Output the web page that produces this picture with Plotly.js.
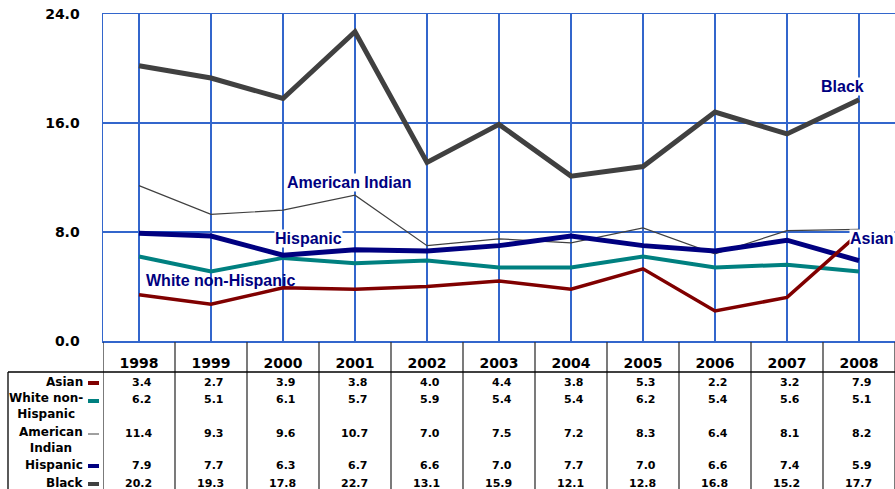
<!DOCTYPE html>
<html>
<head>
<meta charset="utf-8">
<script src="https://cdn.plot.ly/plotly-3.0.1.min.js"></script>
<style>html,body{margin:0;padding:0;background:#fff;}#chart{width:895px;height:489px;}</style>
</head>
<body>
<div id="chart"></div>
<script>
const years = ["1998","1999","2000","2001","2002","2003","2004","2005","2006","2007","2008"];
const asian = [3.4, 2.7, 3.9, 3.8, 4.0, 4.4, 3.8, 5.3, 2.2, 3.2, 7.9];
const whiteNonHispanic = [6.2, 5.1, 6.1, 5.7, 5.9, 5.4, 5.4, 6.2, 5.4, 5.6, 5.1];
const americanIndian = [11.4, 9.3, 9.6, 10.7, 7.0, 7.5, 7.2, 8.3, 6.4, 8.1, 8.2];
const hispanic = [7.9, 7.7, 6.3, 6.7, 6.6, 7.0, 7.7, 7.0, 6.6, 7.4, 5.9];
const black = [20.2, 19.3, 17.8, 22.7, 13.1, 15.9, 12.1, 12.8, 16.8, 15.2, 17.7];
const rowLabels = ["Asian", "White non-<br>Hispanic", "American<br>Indian", "Hispanic", "Black"];
const yTicks = [0, 8, 16, 24];
const yTickText = ["0.0", "8.0", "16.0", "24.0"];

const W = 895, H = 489, L = 103, T = 14, B = 148;
const plotW = W - L, plotH = H - T - B;
const bottomPx = H - B;
const px2x = p => (p - L) / plotW;
const px2y = p => (bottomPx - p) / plotH;

const series = [
  {name: "American Indian", y: americanIndian, color: "#404040", width: 1.2},
  {name: "White non-Hispanic", y: whiteNonHispanic, color: "#008080", width: 4},
  {name: "Hispanic", y: hispanic, color: "#000080", width: 5},
  {name: "Black", y: black, color: "#404040", width: 5},
  {name: "Asian", y: asian, color: "#800000", width: 3.5}
];
const traces = series.map(s => ({
  type: "scatter", mode: "lines", x: years, y: s.y, name: s.name,
  line: {color: s.color, width: s.width}, hoverinfo: "skip"
}));

const tableRows = [
  {data: asian, color: "#800000", width: 4, ypx: 382},
  {data: whiteNonHispanic, color: "#008080", width: 4, ypx: 400, labelPx: 406},
  {data: americanIndian, color: "#404040", width: 1, ypx: 433, labelPx: 440},
  {data: hispanic, color: "#000080", width: 4, ypx: 465},
  {data: black, color: "#404040", width: 4, ypx: 483}
];

const annotations = [];
const shapes = [];
const labFont = {family: "Liberation Sans, Arial, sans-serif", size: 16, color: "#000080", weight: "bold"};
[
  {text: "American Indian", x: 2.92, y: 11.6, xanchor: "center", xref: "x", bg: "#ffffff"},
  {text: "Hispanic", x: 2.36, y: 7.5, xanchor: "center", xref: "x", bg: "#ffffff"},
  {text: "White non-Hispanic", x: 1.13, y: 4.45, xanchor: "center", xref: "x", bg: "rgba(0,0,0,0)"},
  {text: "Black", x: 9.77, y: 18.7, xanchor: "center", xref: "x", bg: "#ffffff"},
  {text: "Asian", x: 1, y: 7.5, xanchor: "right", xref: "paper", bg: "#ffffff"}
].forEach(a => annotations.push({
  text: a.text, x: a.x, y: a.y, xref: a.xref, yref: "y", xanchor: a.xanchor, yanchor: "middle",
  showarrow: false, font: labFont, bgcolor: a.bg, borderpad: 0
}));

const cellFont = {family: "DejaVu Sans, Verdana, sans-serif", size: 11, color: "#000000", weight: "bold"};
const rowFont = {family: "DejaVu Sans, Verdana, sans-serif", size: 12, color: "#000000", weight: "bold"};
tableRows.forEach((r, ri) => {
  const yp = r.labelPx || r.ypx;
  annotations.push({
    text: rowLabels[ri], xref: "paper", yref: "paper", x: px2x(85), y: px2y(yp),
    xanchor: "right", yanchor: "middle", align: "center", showarrow: false, font: rowFont
  });
  shapes.push({
    type: "line", xref: "paper", yref: "paper",
    x0: px2x(88), x1: px2x(99), y0: px2y(r.ypx + 1), y1: px2y(r.ypx + 1),
    line: {color: r.color, width: r.width}
  });
  r.data.forEach((v, i) => {
    annotations.push({
      text: v.toFixed(1), xref: "x", yref: "paper", x: i, y: px2y(r.ypx),
      xanchor: "right", yanchor: "middle", xshift: 15, showarrow: false, font: cellFont
    });
  });
});

// table grid lines
for (let i = 0; i <= years.length; i++) {
  shapes.push({
    type: "line", xref: "x", yref: "paper", x0: i - 0.5, x1: i - 0.5,
    y0: px2y(342), y1: px2y(492), line: {color: "#333333", width: 1.3}
  });
}
shapes.push({type: "line", xref: "paper", yref: "paper", x0: px2x(8), x1: 1.01,
  y0: px2y(372), y1: px2y(372), line: {color: "#000000", width: 1.3}});
shapes.push({type: "line", xref: "paper", yref: "paper", x0: px2x(8), x1: px2x(8),
  y0: px2y(372), y1: px2y(492), line: {color: "#000000", width: 1.3}});

const gridBlue = "#3366cc";
const layout = {
  width: W, height: H,
  margin: {l: L, r: 0, t: T, b: B, pad: 0},
  paper_bgcolor: "#ffffff", plot_bgcolor: "#ffffff",
  showlegend: false,
  xaxis: {
    type: "category", range: [-0.5, 10.5], fixedrange: true,
    showgrid: true, gridcolor: gridBlue, gridwidth: 1.2,
    showline: true, linecolor: gridBlue, linewidth: 1.5, mirror: true,
    ticks: "", ticklabelstandoff: 9,
    tickfont: {family: "DejaVu Sans, Verdana, sans-serif", size: 14, color: "#000000", weight: "bold"}
  },
  yaxis: {
    range: [0, 24], tickvals: yTicks, ticktext: yTickText, fixedrange: true,
    showgrid: true, gridcolor: gridBlue, gridwidth: 1.2, zeroline: false,
    showline: true, linecolor: gridBlue, linewidth: 1.5,
    ticks: "", ticklabelstandoff: 19,
    tickfont: {family: "DejaVu Sans, Verdana, sans-serif", size: 14, color: "#000000", weight: "bold"}
  },
  annotations: annotations,
  shapes: shapes
};

Plotly.newPlot("chart", traces, layout, {displayModeBar: false, staticPlot: true});
</script>
</body>
</html>
